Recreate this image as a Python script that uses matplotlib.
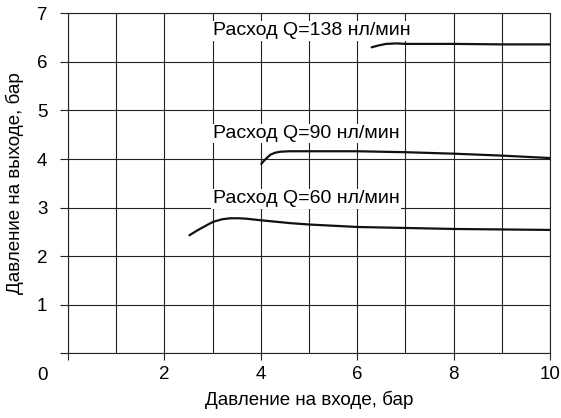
import matplotlib
matplotlib.use('Agg')
import matplotlib.pyplot as plt
from matplotlib.ticker import MultipleLocator

plt.rcParams['font.family'] = ['Liberation Sans', 'DejaVu Sans']

# Data
q60_x = [2.52, 2.60, 2.70, 2.81, 2.92, 3.02, 3.20, 3.37, 3.55, 3.71, 3.99, 4.61, 5.03, 6.02, 7.03, 8.0, 9.0, 10.0]
q60_y = [2.43, 2.48, 2.54, 2.60, 2.66, 2.71, 2.76, 2.78, 2.78, 2.77, 2.74, 2.68, 2.65, 2.60, 2.58, 2.56, 2.55, 2.54]

q90_x = [4.01, 4.10, 4.20, 4.30, 4.40, 4.60, 5.0, 6.0, 7.0, 8.0, 9.0, 10.0]
q90_y = [3.90, 4.00, 4.09, 4.13, 4.15, 4.16, 4.16, 4.16, 4.14, 4.11, 4.07, 4.02]

q138_x = [6.30, 6.45, 6.60, 6.82, 7.0, 8.0, 9.0, 10.0]
q138_y = [6.30, 6.34, 6.37, 6.38, 6.37, 6.37, 6.36, 6.36]

series_labels = ['Расход Q=60 нл/мин', 'Расход Q=90 нл/мин', 'Расход Q=138 нл/мин']
label_pos = [(3.0, 3.09), (3.0, 4.43), (3.0, 6.55)]

x_tick_vals = [2, 4, 6, 8, 10]
x_tick_labels = ['2', '4', '6', '8', '10']
y_tick_vals = [1, 2, 3, 4, 5, 6, 7]
y_tick_labels = ['1', '2', '3', '4', '5', '6', '7']

xlabel = 'Давление на входе, бар'
ylabel = 'Давление на выходе, бар'

W, H = 561, 418
fig = plt.figure(figsize=(W / 100, H / 100), dpi=100)
ax = fig.add_axes([68 / W, 1 - 353.3 / H, (550 - 68) / W, 340 / H])
ax.set_xlim(0, 10)
ax.set_ylim(0, 7)

gc = '#222222'
fs = 13.5

ax.set_xticks([0] + x_tick_vals)
ax.set_xticklabels([''] + x_tick_labels)
ax.xaxis.set_minor_locator(MultipleLocator(1))
ax.set_yticks([0] + y_tick_vals)
ax.set_yticklabels([''] + y_tick_labels)

ax.tick_params(axis='x', which='major', length=5.2, width=0.8, color=gc, pad=4, labelsize=fs)
ax.tick_params(axis='x', which='minor', length=0)
ax.tick_params(axis='y', which='major', length=5.8, width=0.8, color=gc, pad=9, labelsize=fs)
ax.tick_params(top=False, right=False)

ax.grid(which='both', color=gc, linewidth=0.8, zorder=0)
for s in ax.spines.values():
    s.set_color(gc)
    s.set_linewidth(0.8)
ax.set_axisbelow(True)

# corner "0" label, aligned with the x tick labels
fig.text(42 / W, 1 - 376 / H, '0', ha='center', va='center', fontsize=fs)

for (tx, ty), lab in zip(label_pos, series_labels):
    ax.text(tx, ty, lab, ha='left', va='baseline', fontsize=14, zorder=3,
            bbox=dict(facecolor='white', edgecolor='none', pad=1.0))

for xs, ys in [(q60_x, q60_y), (q90_x, q90_y), (q138_x, q138_y)]:
    ax.plot(xs, ys, color='#111111', linewidth=1.6, zorder=4,
            solid_capstyle='round', solid_joinstyle='round')

fig.text(309 / W, 1 - 400 / H, xlabel, ha='center', va='center', fontsize=fs)
fig.text(15 / W, 1 - 183 / H, ylabel, ha='center', va='center', rotation=90, fontsize=fs)

fig.savefig('out.png', dpi=100)
